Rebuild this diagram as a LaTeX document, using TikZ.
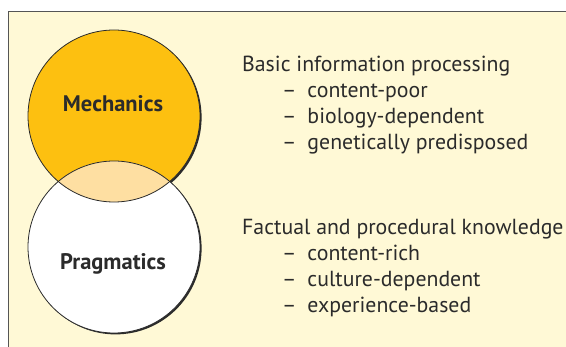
\documentclass[tikz,border=0pt]{standalone}
\usepackage{fontspec}
\setmainfont{PT Sans}
\usepackage{tikz}
\usetikzlibrary{positioning}

\definecolor{panelbg}{HTML}{FFF9D6}
\definecolor{mechfill}{HTML}{FDC010}
\definecolor{lensfill}{HTML}{FEDFA2}
\definecolor{inkgray}{HTML}{2B2B2B}

\begin{document}
\begin{tikzpicture}[x=1pt, y=-1pt,
  circ/.style={draw=inkgray, line width=0.8pt},
  shade/.style={fill=inkgray},
  circlabel/.style={font=\fontsize{22.5}{26}\selectfont\bfseries, text=inkgray, anchor=base},
  heading/.style={font=\fontsize{21.8}{26}\selectfont, text=inkgray, anchor=base west, inner sep=0pt},
  item/.style={font=\fontsize{21.8}{26}\selectfont, text=inkgray, anchor=base west, inner sep=0pt}
]
\useasboundingbox (0,0) rectangle (566,347);
% panel
\fill[panelbg] (8,12) rectangle (566,347);
\draw[inkgray!80, line width=1pt] (8,347) -- (8,12) -- (566,12);

% circles with shadow
\fill[shade] (115.6,117.4) circle (86);
\fill[shade] (115.6,248.4) circle (86);
\fill[mechfill] (114,116) circle (86);
\fill[white] (114,247) circle (86);
\begin{scope}
  \clip (114,116) circle (86);
  \fill[lensfill] (114,247) circle (86);
\end{scope}
\draw[circ] (114,116) circle (86);
\draw[circ] (114,247) circle (86);

\node[circlabel] (mech) at (113,112) {Mechanics};
\node[circlabel] (prag) at (113,270) {Pragmatics};

% lists
\node[heading] (basic) at (242,72) {Basic information processing};
\foreach \txt [count=\i] in {content-poor, biology-dependent, genetically predisposed}
  \node[item] (basic\i) at (282,{72+26*\i}) {--\hspace{0.5em}\txt};
\node[heading] (factual) at (242,235) {Factual and procedural knowledge};
\foreach \txt [count=\i] in {content-rich, culture-dependent, experience-based}
  \node[item] (factual\i) at (282,{235+25.7*\i}) {--\hspace{0.5em}\txt};
\end{tikzpicture}
\end{document}
